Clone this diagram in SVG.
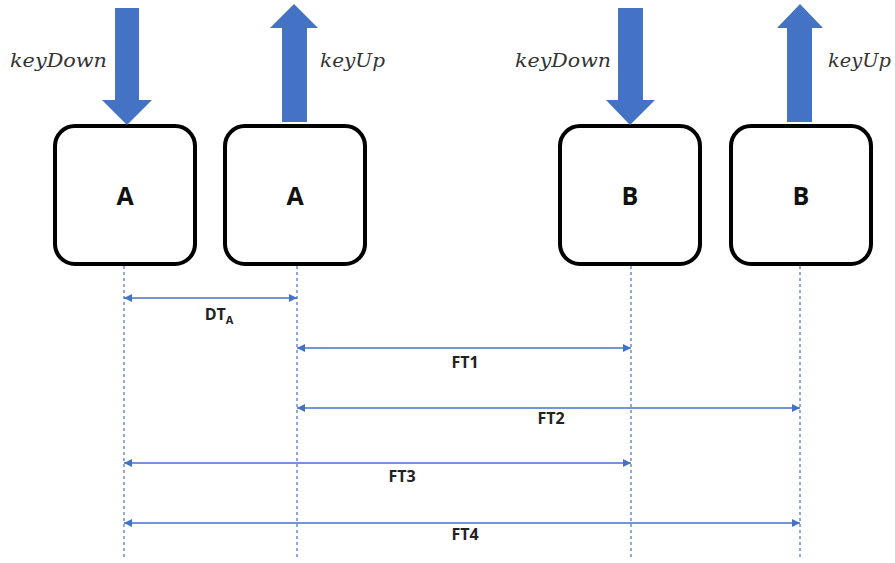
<svg xmlns="http://www.w3.org/2000/svg" width="895" height="563" viewBox="0 0 895 563">
<style>
.box{fill:#fff;stroke:#000;stroke-width:4}
.big{fill:#4472C4}
.key{font-family:"DejaVu Serif","Liberation Serif",serif;font-style:italic;font-size:19px;fill:#333}
.letter{font-family:"Open Sans","Liberation Sans",sans-serif;font-weight:bold;font-size:25px;fill:#111;text-anchor:middle}
.guide{stroke:#4472C4;stroke-width:1.2;stroke-dasharray:3,3;fill:none}
.dim{stroke:#4472C4;stroke-width:1.5;fill:none;marker-start:url(#ah);marker-end:url(#ah)}
.lbl{font-family:"Open Sans","Liberation Sans",sans-serif;font-weight:bold;font-size:16px;fill:#222;text-anchor:middle}
</style>
<defs>
<marker id="ah" viewBox="0 0 10 10" refX="10" refY="5" markerWidth="8" markerHeight="8" orient="auto-start-reverse" markerUnits="userSpaceOnUse">
<path d="M0,0L10,5L0,10z" fill="#4472C4"/>
</marker>
</defs>
<rect width="895" height="563" fill="#fff"/>
<g id="guides">
<line class="guide" x1="124" y1="266" x2="124" y2="560"/>
<line class="guide" x1="297" y1="266" x2="297" y2="560"/>
<line class="guide" x1="631" y1="266" x2="631" y2="560"/>
<line class="guide" x1="800" y1="266" x2="800" y2="560"/>
</g>
<g id="nodeA1">
<rect class="box" x="55" y="126" width="140" height="138" rx="20"/>
<text class="letter" x="125" y="205">A</text>
</g>
<g id="nodeA2">
<rect class="box" x="225" y="126" width="140" height="138" rx="20"/>
<text class="letter" x="295" y="205">A</text>
</g>
<g id="nodeB1">
<rect class="box" x="560" y="126" width="140" height="138" rx="20"/>
<text class="letter" x="630" y="205">B</text>
</g>
<g id="nodeB2">
<rect class="box" x="731" y="126" width="140" height="138" rx="20"/>
<text class="letter" x="801" y="205">B</text>
</g>
<g id="keyDownA">
<path class="big" d="M115,8H139V100H152L127,125L102,100H115Z"/>
<text class="key" x="10" y="67" textLength="97" lengthAdjust="spacingAndGlyphs">keyDown</text>
</g>
<g id="keyUpA">
<path class="big" d="M282,122H307V28H318L294,4L270,28H282Z"/>
<text class="key" x="320" y="67" textLength="65" lengthAdjust="spacingAndGlyphs">keyUp</text>
</g>
<g id="keyDownB">
<path class="big" d="M618,8H643V100H655L630,125L606,100H618Z"/>
<text class="key" x="515" y="67" textLength="96" lengthAdjust="spacingAndGlyphs">keyDown</text>
</g>
<g id="keyUpB">
<path class="big" d="M787,122H812V28H823L800,4L777,28H787Z"/>
<text class="key" x="828" y="67" textLength="63" lengthAdjust="spacingAndGlyphs">keyUp</text>
</g>
<g id="connectors">
<line class="dim" x1="124" y1="298" x2="297" y2="298"/>
<line class="dim" x1="297" y1="348" x2="631" y2="348"/>
<line class="dim" x1="297" y1="408" x2="800" y2="408"/>
<line class="dim" x1="124" y1="463" x2="631" y2="463"/>
<line class="dim" x1="124" y1="523" x2="800" y2="523"/>
</g>
<g id="labels">
<text class="lbl" x="219" y="320">DT<tspan font-size="11" dy="4">A</tspan></text>
<text class="lbl" x="465" y="368">FT1</text>
<text class="lbl" x="551" y="424">FT2</text>
<text class="lbl" x="402" y="482">FT3</text>
<text class="lbl" x="465" y="540">FT4</text>
</g>
</svg>
